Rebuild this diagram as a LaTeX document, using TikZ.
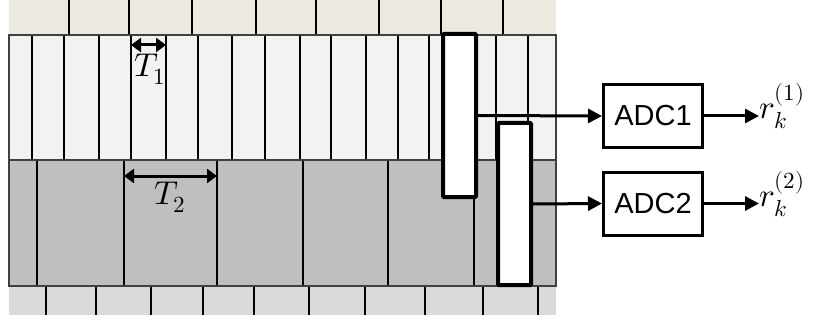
\documentclass[tikz,border=0pt]{standalone}
\usepackage{fontspec}
\usepackage{unicode-math}
\setmainfont{Liberation Sans}
\setmathfont{Latin Modern Math}
\usetikzlibrary{arrows.meta}
\definecolor{beigestrip}{HTML}{ECEAE0}
\definecolor{lightstrip}{HTML}{F2F2F2}
\definecolor{graystrip}{HTML}{BFBFBF}
\definecolor{botstrip}{HTML}{D9D9D9}
\definecolor{edgegray}{HTML}{404040}
\tikzset{
  divline/.style={black, line width=2pt},
  stripedge/.style={edgegray, line width=1.2pt},
  sampler/.style={draw=black, fill=white, line width=4pt, minimum width=33pt, inner sep=0pt, rounded corners=1pt},
  adcbox/.style={draw=black, line width=3pt, minimum width=99pt, minimum height=63pt, inner sep=0pt, font=\fontsize{29}{34}\selectfont},
  conn/.style={line width=3pt, -{Triangle[length=14pt,width=14pt]}},
  period/.style={line width=3pt, {Triangle[length=10pt,width=14pt]}-{Triangle[length=10pt,width=14pt]}},
  mlabel/.style={inner sep=0pt, font=\fontsize{33}{38}\selectfont}
}
\begin{document}
\begin{tikzpicture}[x=1pt,y=-1pt]
\useasboundingbox (0,0) rectangle (815,321);
% strips
\fill[beigestrip] (9,0) rectangle (556,35);
\fill[lightstrip] (9,35) rectangle (556,160);
\fill[graystrip] (9,160) rectangle (556,286);
\fill[botstrip] (9,286) rectangle (556,315);
\foreach \x in {69,129,192,256,316,379,441,503} \draw[divline] (\x,0) -- (\x,35);
\foreach \x in {32,64,99,131,166,198,232,265,300,331,366,398,429,463,496,528} \draw[divline] (\x,35) -- (\x,160);
\foreach \x in {37,124,217,303,388,474} \draw[divline] (\x,160) -- (\x,286);
\foreach \x in {46,96,151,203,254,309,365,425,483,538} \draw[divline] (\x,286) -- (\x,315);
\draw[stripedge] (9,35) rectangle (556,286);
\draw[stripedge] (9,160) -- (556,160);
\draw[stripedge] (9,286) -- (556,286);
% periods
\coordinate (t1a) at (131,45);
\coordinate (t1b) at (166,45);
\draw[period] (t1a) -- (t1b);
\node[mlabel] (t1) at (150,69) {$T_1$};
\coordinate (t2a) at (124,176);
\coordinate (t2b) at (217,176);
\draw[period] (t2a) -- (t2b);
\node[mlabel] (t2) at (170,197) {$T_2$};
% samplers
\node[sampler, minimum height=163pt] (s1) at (459.5,115.5) {};
\node[sampler, minimum height=162pt] (s2) at (514.5,204) {};
% ADCs
\node[adcbox] (adc1) at (653,116) {ADC1};
\node[adcbox] (adc2) at (653,203.5) {ADC2};
\draw[conn] (s1.east) -- (adc1.west);
\draw[conn] (s2.east) -- (adc2.west);
\node[mlabel, anchor=west] (r1) at (759,106) {$r_k^{(1)}$};
\node[mlabel, anchor=west] (r2) at (759,194) {$r_k^{(2)}$};
\draw[conn] (adc1.east) -- (adc1.east -| r1.west);
\draw[conn] (adc2.east) -- (adc2.east -| r2.west);
\end{tikzpicture}
\end{document}
